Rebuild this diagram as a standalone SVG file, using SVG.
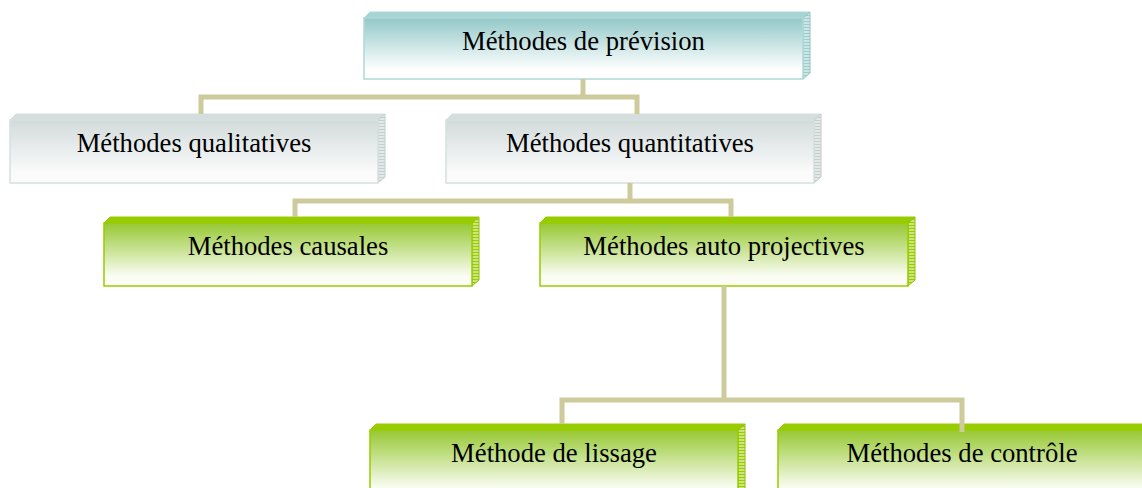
<svg xmlns="http://www.w3.org/2000/svg" width="1142" height="488" viewBox="0 0 1142 488">
  <defs>
    <linearGradient id="gTeal" x1="0" y1="0" x2="0" y2="1">
      <stop offset="0" stop-color="#93c8c8"/>
      <stop offset="0.85" stop-color="#ffffff"/>
    </linearGradient>
    <linearGradient id="gGray" x1="0" y1="0" x2="0" y2="1">
      <stop offset="0" stop-color="#d2dbdb"/>
      <stop offset="0.85" stop-color="#fbfbfb"/>
    </linearGradient>
    <linearGradient id="gGreen" x1="0" y1="0" x2="0" y2="1">
      <stop offset="0" stop-color="#96c832"/>
      <stop offset="0.85" stop-color="#fbfdf5"/>
    </linearGradient>
    <pattern id="sTeal" width="8" height="3" patternUnits="userSpaceOnUse">
      <rect width="8" height="3" fill="#9ccccc"/>
      <rect y="1.5" width="8" height="1" fill="#ffffff"/>
    </pattern>
    <pattern id="sGray" width="8" height="3" patternUnits="userSpaceOnUse">
      <rect width="8" height="3" fill="#c6cfcf"/>
      <rect y="1.5" width="8" height="1" fill="#ffffff"/>
    </pattern>
    <pattern id="sGreen" width="8" height="3" patternUnits="userSpaceOnUse">
      <rect width="8" height="3" fill="#99cc00"/>
      <rect y="1.5" width="8" height="1" fill="#ffffff"/>
    </pattern>
  </defs>
  <style>
    .lbl { font-family: "Liberation Serif", "Times New Roman", serif; font-size: 26.67px; fill: #000000; text-anchor: middle; }
    .teal .front { fill: url(#gTeal); stroke: #aed8d8; stroke-width: 1.5; }
    .teal .top { fill: #a8d3d3; stroke: #aed8d8; stroke-width: 1; }
    .teal .side { fill: url(#sTeal); stroke: #8fc4c4; stroke-width: 1; }
    .gray .front { fill: url(#gGray); stroke: #d6dfdf; stroke-width: 1.5; }
    .gray .top { fill: #d5dddd; stroke: #d6dfdf; stroke-width: 1; }
    .gray .side { fill: url(#sGray); stroke: #c3cccc; stroke-width: 1; }
    .green .front { fill: url(#gGreen); stroke: #99cc00; stroke-width: 1.5; }
    .green .top { fill: #99cc00; stroke: #99cc00; stroke-width: 1; }
    .green .side { fill: url(#sGreen); stroke: #8fbf00; stroke-width: 1; }
    .conn { fill: none; stroke: #cdca9b; stroke-width: 5; stroke-linejoin: miter; }
  </style>

  <rect width="1142" height="488" fill="#ffffff"/>

  <!-- root -->
  <g id="n-prevision" class="teal">
    <polygon class="top" points="364,18 370,12 810,12 803,18"/>
    <polygon class="side" points="803,18 810,12 810,73 803,79"/>
    <rect class="front" x="364" y="18" width="439" height="61"/>
    <text class="lbl" x="583.5" y="50">Méthodes de prévision</text>
  </g>

  <!-- second level -->
  <g id="n-qualitatives" class="gray">
    <polygon class="top" points="10,120 16,114 385,114 378,120"/>
    <polygon class="side" points="378,120 385,114 385,177 378,183"/>
    <rect class="front" x="10" y="120" width="368" height="63"/>
    <text class="lbl" x="194" y="152">Méthodes qualitatives</text>
  </g>
  <g id="n-quantitatives" class="gray">
    <polygon class="top" points="446,120 452,114 821,114 814,120"/>
    <polygon class="side" points="814,120 821,114 821,177 814,183"/>
    <rect class="front" x="446" y="120" width="368" height="63"/>
    <text class="lbl" x="630" y="152">Méthodes quantitatives</text>
  </g>

  <!-- third level -->
  <g id="n-causales" class="green">
    <polygon class="top" points="104,223 110,217 479,217 472,223"/>
    <polygon class="side" points="472,223 479,217 479,280 472,286"/>
    <rect class="front" x="104" y="223" width="368" height="63"/>
    <text class="lbl" x="288" y="255">Méthodes causales</text>
  </g>
  <g id="n-autoprojectives" class="green">
    <polygon class="top" points="540,223 546,217 915,217 908,223"/>
    <polygon class="side" points="908,223 915,217 915,280 908,286"/>
    <rect class="front" x="540" y="223" width="368" height="63"/>
    <text class="lbl" x="724" y="255">Méthodes auto projectives</text>
  </g>

  <!-- fourth level -->
  <g id="n-lissage" class="green">
    <polygon class="top" points="370,430 376,424 745,424 738,430"/>
    <polygon class="side" points="738,430 745,424 745,493 738,499"/>
    <rect class="front" x="370" y="430" width="368" height="69"/>
    <text class="lbl" x="554" y="462">Méthode de lissage</text>
  </g>
  <g id="n-controle" class="green">
    <polygon class="top" points="778,430 784,424 1153,424 1146,430"/>
    <rect class="front" x="778" y="430" width="368" height="69"/>
    <text class="lbl" x="962" y="462">Méthodes de contrôle</text>
  </g>

  <!-- connectors -->
  <g id="connectors">
    <path class="conn" d="M583,79 V97"/>
    <path class="conn" d="M201,114 V97 H637 V114"/>
    <path class="conn" d="M630,183 V201"/>
    <path class="conn" d="M295,217 V201 H731 V217"/>
    <path class="conn" d="M724,286 V400"/>
    <path class="conn" d="M562,424 V400 H962 V432"/>
  </g>
</svg>
